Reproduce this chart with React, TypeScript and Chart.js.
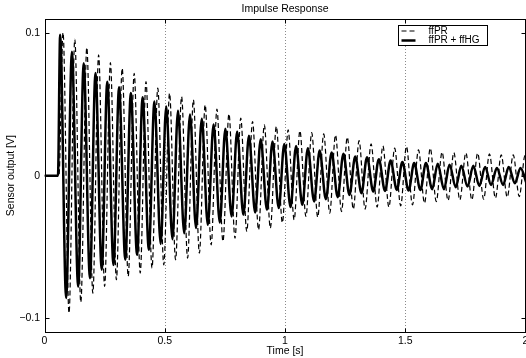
import React, { useEffect, useRef } from 'react';
import { Chart, registerables } from 'chart.js';

Chart.register(...registerables);

// ---- axis / labels ----
const xTicks = [0, 0.5, 1, 1.5, 2];
const xGrid = [0.5, 1, 1.5];
const yTicks = [-0.1, 0, 0.1];
const seriesNames = ['ffPR', 'ffPR + ffHG'];
const chartTitle = 'Impulse Response';
const xTitle = 'Time [s]';
const yTitle = 'Sensor output [V]';

// ---- ffPR + ffHG (solid): resting part, then peaks / troughs ----
const solidRestT = [0, 0.056];
const solidPeakT = [0.065, 0.114, 0.163, 0.212, 0.261, 0.310, 0.359, 0.408, 0.457, 0.506, 0.555, 0.605, 0.654, 0.703, 0.752, 0.801, 0.850, 0.899, 0.948, 0.997, 1.046, 1.095, 1.144, 1.194, 1.243, 1.292, 1.341, 1.390, 1.439, 1.488, 1.537, 1.586, 1.635, 1.684, 1.733, 1.783, 1.832, 1.881, 1.930, 1.979];
const solidPeakV = [0.099, 0.087, 0.079, 0.072, 0.066, 0.062, 0.058, 0.055, 0.052, 0.0485, 0.0455, 0.043, 0.040, 0.036, 0.033, 0.031, 0.028, 0.0256, 0.024, 0.0223, 0.0209, 0.0193, 0.0176, 0.0162, 0.0153, 0.0134, 0.013, 0.0116, 0.0106, 0.0095, 0.0088, 0.0088, 0.0083, 0.0076, 0.0069, 0.0069, 0.006, 0.0053, 0.006, 0.0053];
const solidTroughT = [0.090, 0.140, 0.189, 0.238, 0.287, 0.336, 0.385, 0.434, 0.483, 0.532, 0.581, 0.630, 0.679, 0.729, 0.778, 0.827, 0.876, 0.925, 0.974, 1.023, 1.072, 1.121, 1.170, 1.219, 1.268, 1.318, 1.367, 1.416, 1.465, 1.514, 1.563, 1.612, 1.661, 1.710, 1.759, 1.808, 1.857, 1.907, 1.956, 2.005];
const solidTroughV = [-0.086, -0.078, -0.072, -0.066, -0.0627, -0.059, -0.0556, -0.052, -0.048, -0.0446, -0.0404, -0.0368, -0.0345, -0.0329, -0.0287, -0.0275, -0.0259, -0.024, -0.0228, -0.0221, -0.0205, -0.0182, -0.0165, -0.0151, -0.0135, -0.0123, -0.0112, -0.0107, -0.010, -0.0105, -0.010, -0.0095, -0.0095, -0.0081, -0.0076, -0.0072, -0.0065, -0.0065, -0.0053, -0.0058];

// ---- ffPR (dashed) ----
const dashRestT = [0, 0.060];
const dashPeakT = [0.077, 0.126, 0.176, 0.225, 0.274, 0.323, 0.373, 0.422, 0.471, 0.520, 0.570, 0.619, 0.668, 0.717, 0.767, 0.816, 0.865, 0.914, 0.964, 1.013, 1.062, 1.111, 1.161, 1.210, 1.259, 1.308, 1.358, 1.407, 1.456, 1.505, 1.555, 1.604, 1.653, 1.702, 1.752, 1.801, 1.850, 1.899, 1.949, 1.998];
const dashPeakV = [0.1005, 0.0957, 0.090, 0.0848, 0.0794, 0.0754, 0.0719, 0.066, 0.0614, 0.0579, 0.0555, 0.0532, 0.0497, 0.0467, 0.0434, 0.0404, 0.038, 0.0356, 0.0345, 0.0321, 0.0315, 0.0302, 0.0293, 0.0286, 0.027, 0.0246, 0.0223, 0.0209, 0.0193, 0.0205, 0.0181, 0.0193, 0.0165, 0.0162, 0.016, 0.0158, 0.0153, 0.0146, 0.0146, 0.014];
const dashTroughT = [0.102, 0.151, 0.201, 0.250, 0.299, 0.348, 0.398, 0.447, 0.496, 0.545, 0.595, 0.644, 0.693, 0.742, 0.792, 0.841, 0.890, 0.939, 0.989, 1.038, 1.087, 1.136, 1.186, 1.235, 1.284, 1.333, 1.383, 1.432, 1.481, 1.530, 1.580, 1.629, 1.678, 1.727, 1.777, 1.826, 1.875, 1.924, 1.974, 2.023];
const dashTroughV = [-0.0965, -0.089, -0.0825, -0.0778, -0.0731, -0.0708, -0.0684, -0.0649, -0.0626, -0.0591, -0.0579, -0.0544, -0.0486, -0.0462, -0.0439, -0.0392, -0.038, -0.0368, -0.033, -0.031, -0.0287, -0.0291, -0.0263, -0.0252, -0.0235, -0.0235, -0.0221, -0.0221, -0.0212, -0.0205, -0.0193, -0.0182, -0.0175, -0.017, -0.017, -0.0165, -0.0158, -0.0151, -0.0147, -0.014];

function buildSeries(restT: number[], pT: number[], pV: number[], tT: number[], tV: number[]) {
  const pts: { x: number; y: number }[] = restT.map((t) => ({ x: t, y: 0 }));
  for (let i = 0; i < pT.length; i++) {
    pts.push({ x: pT[i], y: pV[i] });
    if (i < tT.length) pts.push({ x: tT[i], y: tV[i] });
  }
  return pts;
}

const FONT = 'Liberation Sans, Arial, Helvetica, sans-serif';

const decor = {
  id: 'decor',
  beforeDatasetsDraw(chart: any) {
    const { ctx, chartArea, scales } = chart;
    const { top, bottom } = chartArea;
    ctx.save();
    ctx.strokeStyle = '#8a8a8a';
    ctx.lineWidth = 1;
    ctx.setLineDash([1, 2]);
    for (const v of xGrid) {
      const px = Math.round(scales.x.getPixelForValue(v)) + 0.5;
      ctx.beginPath();
      ctx.moveTo(px, top);
      ctx.lineTo(px, bottom);
      ctx.stroke();
    }
    ctx.restore();
  },
  afterDatasetsDraw(chart: any) {
    const { ctx, chartArea, scales } = chart;
    const { left, right, top, bottom } = chartArea;
    const L = Math.round(left) + 0.5;
    const R = Math.round(right) - 0.5;
    const T = Math.round(top) + 0.5;
    const B = Math.round(bottom) + 0.5;
    ctx.save();
    ctx.setLineDash([]);
    ctx.strokeStyle = '#000';
    ctx.lineWidth = 1;
    ctx.strokeRect(L, T, R - L, B - T);
    const tl = 4;
    ctx.beginPath();
    for (const v of xTicks) {
      const px = Math.round(scales.x.getPixelForValue(v)) + 0.5;
      ctx.moveTo(px, B); ctx.lineTo(px, B - tl);
      ctx.moveTo(px, T); ctx.lineTo(px, T + tl);
    }
    for (const v of yTicks) {
      const py = Math.round(scales.y.getPixelForValue(v)) + 0.5;
      ctx.moveTo(L, py); ctx.lineTo(L + tl, py);
      ctx.moveTo(R, py); ctx.lineTo(R - tl, py);
    }
    ctx.stroke();

    // title
    ctx.fillStyle = '#000';
    ctx.font = `10.5px ${FONT}`;
    ctx.textAlign = 'center';
    ctx.textBaseline = 'middle';
    ctx.fillText(chartTitle, (left + right) / 2, 9.5);

    // legend
    const bx = 398.5, by = 25.5, bw = 89, bh = 20;
    ctx.fillStyle = '#fff';
    ctx.fillRect(bx, by, bw, bh);
    ctx.strokeRect(bx, by, bw, bh);
    ctx.beginPath();
    ctx.setLineDash([5, 3]);
    ctx.lineWidth = 1.2;
    ctx.moveTo(bx + 3, by + 5.5); ctx.lineTo(bx + 17, by + 5.5);
    ctx.stroke();
    ctx.setLineDash([]);
    ctx.lineWidth = 2.5;
    ctx.beginPath();
    ctx.moveTo(bx + 3, by + 15); ctx.lineTo(bx + 17, by + 15);
    ctx.stroke();
    ctx.fillStyle = '#000';
    ctx.font = `10px ${FONT}`;
    ctx.textAlign = 'left';
    ctx.fillText(seriesNames[0], bx + 30, by + 5.5);
    ctx.fillText(seriesNames[1], bx + 30, by + 15);
    ctx.restore();
  },
};

export default function App() {
  const ref = useRef<HTMLCanvasElement>(null);
  useEffect(() => {
    document.body.style.margin = '0';
    document.body.style.overflow = 'hidden';
    const canvas = ref.current!;
    const tickFont = { family: FONT, size: 10.5 };
    const chart = new Chart(canvas, {
      type: 'line',
      data: {
        datasets: [
          {
            label: seriesNames[0],
            data: buildSeries(dashRestT, dashPeakT, dashPeakV, dashTroughT, dashTroughV),
            borderColor: '#000',
            borderWidth: 1.2,
            borderDash: [5, 3],
            pointRadius: 0,
            fill: false,
            cubicInterpolationMode: 'monotone',
            order: 2,
          },
          {
            label: seriesNames[1],
            data: buildSeries(solidRestT, solidPeakT, solidPeakV, solidTroughT, solidTroughV),
            borderColor: '#000',
            borderWidth: 2.5,
            pointRadius: 0,
            fill: false,
            cubicInterpolationMode: 'monotone',
            order: 1,
          },
        ],
      },
      options: {
        responsive: false,
        animation: false,
        events: [],
        layout: { padding: { top: 19, right: 14.5, left: 0, bottom: 0 } },
        plugins: { legend: { display: false }, tooltip: { enabled: false }, title: { display: false } },
        scales: {
          x: {
            type: 'linear',
            min: 0,
            max: 2,
            afterBuildTicks: (s: any) => { s.ticks = xTicks.map((v) => ({ value: v })); },
            afterFit: (s: any) => { s.height = 25.7; },
            grid: { display: false, drawTicks: false },
            border: { display: false },
            ticks: { font: tickFont, color: '#000', padding: 3, maxRotation: 0, autoSkip: false, callback: (v: any) => String(v) },
            title: { display: true, text: xTitle, font: tickFont, color: '#000', padding: { top: 0, bottom: 1 } },
          },
          y: {
            type: 'linear',
            min: -0.11,
            max: 0.11,
            afterBuildTicks: (s: any) => { s.ticks = yTicks.map((v) => ({ value: v })); },
            afterFit: (s: any) => { s.width = 44.5; },
            grid: { display: false, drawTicks: false },
            border: { display: false },
            ticks: {
              font: tickFont,
              color: '#000',
              padding: 4.5,
              callback: (v: any) => (v === 0 ? '0' : v < 0 ? '\u2212' + String(Math.abs(v)) : String(v)),
            },
            title: { display: true, text: yTitle, font: tickFont, color: '#000', padding: { top: 5, bottom: 0 } },
          },
        },
      },
      plugins: [decor],
    } as any);
    return () => chart.destroy();
  }, []);
  return (
    <div style={{ width: 526, height: 358, overflow: 'hidden', background: '#fff' }}>
      <canvas ref={ref} width={540} height={358} style={{ display: 'block', width: 540, height: 358 }} />
    </div>
  );
}
